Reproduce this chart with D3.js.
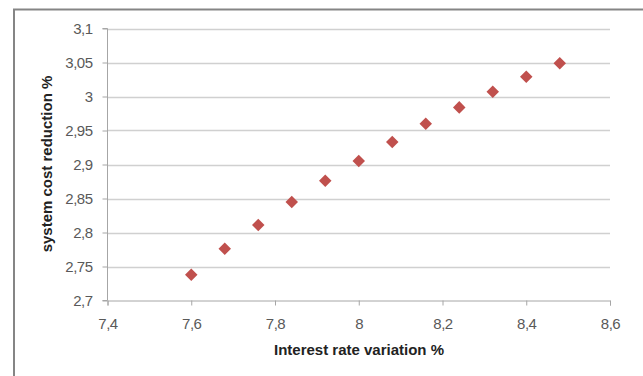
<!DOCTYPE html>
<html>
<head>
<meta charset="utf-8">
<script src="https://cdn.jsdelivr.net/npm/d3@7"></script>
<style>
  html, body { margin: 0; padding: 0; background: #fff; }
  svg { display: block; font-family: "Liberation Sans", Arial, sans-serif; }
</style>
</head>
<body>
<svg id="chart" width="643" height="376"></svg>
<script>
// Interest rate variation (%) vs. system cost reduction (%)
const interestRates = [7.6, 7.68, 7.76, 7.84, 7.92, 8.0, 8.08, 8.16, 8.24, 8.32, 8.4, 8.48];
const costReductions = [2.738, 2.776, 2.811, 2.845, 2.876, 2.905, 2.933, 2.960, 2.984, 3.007, 3.029, 3.049];
const xTicks = [7.4, 7.6, 7.8, 8.0, 8.2, 8.4, 8.6];
const yTicks = [2.7, 2.75, 2.8, 2.85, 2.9, 2.95, 3.0, 3.05, 3.1];
const xTitle = "Interest rate variation %";
const yTitle = "system cost reduction %";

const svg = d3.select("#chart");
const fmt = v => String(+v.toFixed(2)).replace(".", ",");

// outer chart frame
svg.append("rect")
  .attr("x", 14).attr("y", 9.5)
  .attr("width", 640).attr("height", 380)
  .attr("fill", "none").attr("stroke", "#858585").attr("stroke-width", 2);

const x = d3.scaleLinear().domain([7.4, 8.6]).range([107.5, 610]);
const y = d3.scaleLinear().domain([2.7, 3.1]).range([300.5, 28.5]);

// horizontal gridlines
svg.append("g")
  .selectAll("line")
  .data(yTicks.slice(1))
  .join("line")
  .attr("x1", x(7.4)).attr("x2", x(8.6))
  .attr("y1", d => Math.round(y(d)) + 0.5).attr("y2", d => Math.round(y(d)) + 0.5)
  .attr("stroke", "#d0d0d0").attr("stroke-width", 1.6);

// y axis
const yAxis = svg.append("g")
  .attr("transform", `translate(${x(7.4)},0)`)
  .call(d3.axisLeft(y).tickValues(yTicks).tickFormat(fmt).tickSize(5).tickPadding(10));
yAxis.select(".domain").attr("stroke", "#a6a6a6").attr("d", `M-5,${y(2.7)}H0V${y(3.1)}H-5`);
yAxis.selectAll(".tick line").attr("stroke", "#a6a6a6");
yAxis.selectAll(".tick text").attr("fill", "#595959").attr("font-size", 15).attr("letter-spacing", -0.5);

// x axis
const xAxis = svg.append("g")
  .attr("transform", `translate(0,${y(2.7)})`)
  .call(d3.axisBottom(x).tickValues(xTicks).tickFormat(fmt).tickSize(5).tickPadding(13));
xAxis.select(".domain").attr("stroke", "#a6a6a6");
xAxis.selectAll(".tick line").attr("stroke", "#a6a6a6");
xAxis.selectAll(".tick text").attr("fill", "#595959").attr("font-size", 15).attr("letter-spacing", -0.5);

// data markers (diamonds)
svg.append("g")
  .selectAll("path")
  .data(interestRates.map((r, i) => [r, costReductions[i]]))
  .join("path")
  .attr("transform", d => `translate(${x(d[0])},${y(d[1])})`)
  .attr("d", d3.symbol(d3.symbolDiamond2, 100)())
  .attr("fill", "#c0504d");

// axis titles
svg.append("text")
  .attr("x", 359).attr("y", 355)
  .attr("text-anchor", "middle")
  .attr("font-size", 15).attr("font-weight", "bold").attr("fill", "#222")
  .text(xTitle);

svg.append("text")
  .attr("transform", "translate(52,164) rotate(-90)")
  .attr("text-anchor", "middle")
  .attr("font-size", 15).attr("font-weight", "bold").attr("fill", "#222")
  .text(yTitle);
</script>
</body>
</html>
